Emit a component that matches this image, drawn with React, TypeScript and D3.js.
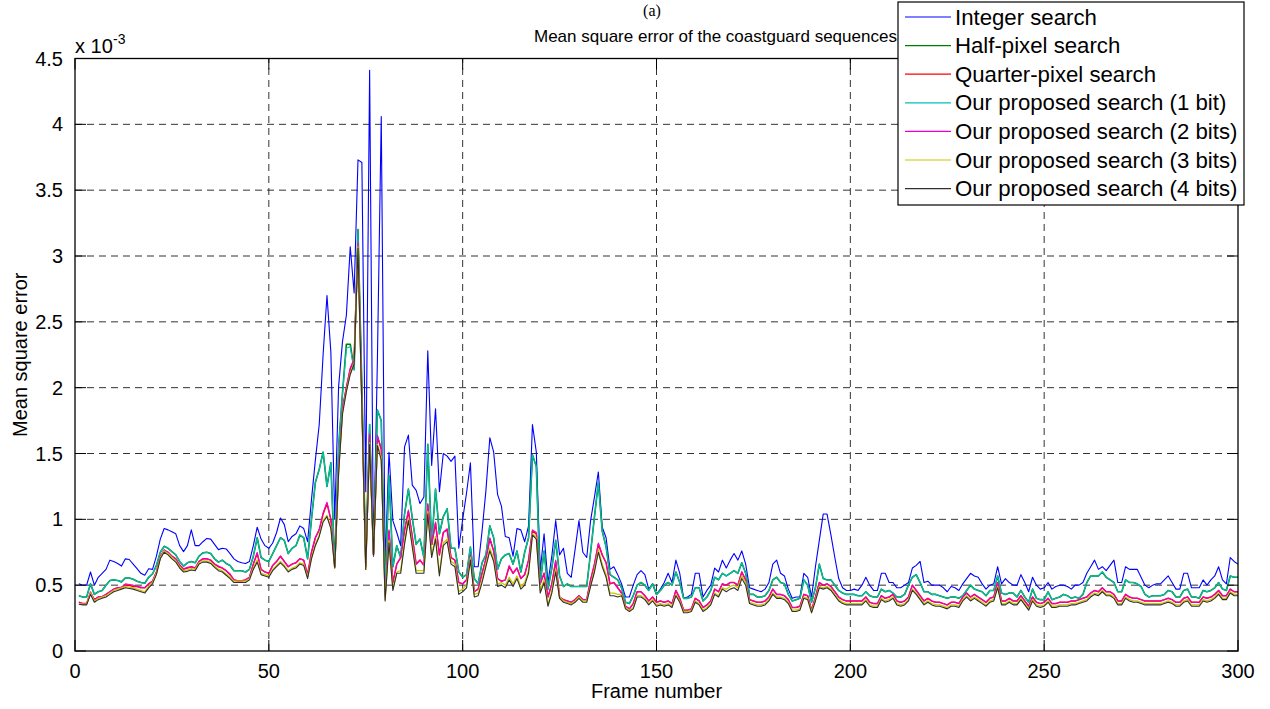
import React from "react";
import * as d3 from "d3";

// Frame numbers 1..300
const frames: number[] = d3.range(1, 301);

const xTicks = [0, 50, 100, 150, 200, 250, 300];
const yTicks = [0, 0.5, 1, 1.5, 2, 2.5, 3, 3.5, 4, 4.5];
const yTickLabels = ["0", "0.5", "1", "1.5", "2", "2.5", "3", "3.5", "4", "4.5"];

const seriesNames = [
  "Integer search",
  "Half-pixel search",
  "Quarter-pixel search",
  "Our proposed search (1 bit)",
  "Our proposed search (2 bits)",
  "Our proposed search (3 bits)",
  "Our proposed search (4 bits)",
];
const seriesColors = ["#0000ff", "#008000", "#ff0000", "#00bfbf", "#ee00cc", "#c8c800", "#303030"];
const seriesWidths = [1.1, 1.6, 1.5, 1.1, 1.1, 1.3, 1.1];

// values in units of 1e-3
const integerSearch = [
  0.51,0.50,0.50,0.60,0.50,0.56,0.59,0.62,0.69,0.68,
  0.665,0.645,0.70,0.695,0.66,0.625,0.59,0.575,0.625,0.62,
  0.72,0.85,0.93,0.92,0.905,0.89,0.80,0.755,0.80,0.92,
  0.80,0.80,0.83,0.855,0.85,0.81,0.77,0.78,0.775,0.74,
  0.70,0.68,0.67,0.665,0.68,0.80,0.94,0.85,0.80,0.78,
  0.82,0.90,1.01,0.96,0.83,0.87,0.89,0.95,0.93,0.83,
  1.15,1.45,1.72,2.25,2.70,2.27,1.00,2.01,2.35,2.55,
  3.07,2.72,3.73,3.71,1.21,4.41,0.72,2.20,4.06,0.64,
  1.51,0.99,0.90,0.80,1.55,1.64,1.26,1.22,1.12,1.17,
  2.28,1.41,1.84,1.21,1.50,1.48,1.44,1.48,0.78,1.00,
  1.20,1.43,0.64,0.64,0.91,1.22,1.62,1.51,1.19,1.10,
  0.87,0.86,0.72,0.93,0.92,0.83,0.95,1.72,1.51,0.61,
  0.89,0.52,0.72,0.99,0.73,0.78,0.59,0.56,0.77,0.99,
  0.75,0.71,0.99,1.17,1.36,0.94,0.86,0.62,0.64,0.58,
  0.51,0.41,0.41,0.50,0.58,0.61,0.58,0.47,0.51,0.43,
  0.47,0.52,0.59,0.52,0.69,0.59,0.40,0.41,0.43,0.59,
  0.59,0.41,0.46,0.50,0.63,0.60,0.69,0.63,0.69,0.74,
  0.69,0.76,0.66,0.48,0.47,0.46,0.45,0.47,0.52,0.66,
  0.69,0.59,0.57,0.47,0.40,0.41,0.41,0.59,0.56,0.41,
  0.64,0.84,1.04,1.04,0.88,0.71,0.55,0.48,0.46,0.46,
  0.47,0.46,0.50,0.56,0.50,0.46,0.46,0.59,0.59,0.52,
  0.52,0.48,0.48,0.50,0.52,0.63,0.65,0.68,0.52,0.53,
  0.50,0.50,0.50,0.48,0.45,0.49,0.48,0.46,0.51,0.55,
  0.59,0.57,0.56,0.51,0.47,0.50,0.51,0.64,0.51,0.55,
  0.52,0.50,0.50,0.58,0.52,0.45,0.56,0.50,0.47,0.48,
  0.52,0.47,0.49,0.50,0.50,0.49,0.47,0.50,0.50,0.52,
  0.59,0.64,0.69,0.62,0.64,0.61,0.65,0.69,0.52,0.52,
  0.64,0.62,0.62,0.62,0.56,0.50,0.48,0.50,0.51,0.51,
  0.54,0.57,0.52,0.47,0.47,0.59,0.59,0.48,0.48,0.48,
  0.54,0.50,0.54,0.57,0.64,0.54,0.51,0.71,0.68,0.66,
];

const halfPixel = [
  0.42,0.41,0.41,0.51,0.43,0.45,0.46,0.50,0.535,0.54,
  0.535,0.525,0.555,0.555,0.545,0.53,0.52,0.515,0.56,0.585,
  0.65,0.75,0.795,0.78,0.755,0.73,0.68,0.645,0.67,0.68,
  0.67,0.72,0.745,0.75,0.74,0.70,0.675,0.69,0.665,0.65,
  0.61,0.61,0.61,0.60,0.62,0.72,0.86,0.71,0.69,0.68,
  0.74,0.80,0.86,0.84,0.74,0.78,0.80,0.88,0.86,0.70,
  1.00,1.28,1.38,1.51,1.25,1.43,0.64,1.55,1.96,2.33,
  2.33,2.14,3.20,2.01,0.70,1.72,0.74,1.83,1.75,0.50,
  1.33,0.64,0.80,0.71,1.04,1.23,1.01,0.81,0.85,0.71,
  1.57,0.81,1.23,0.89,1.02,1.08,0.78,0.78,0.60,0.56,
  0.58,0.79,0.55,0.51,0.67,0.73,0.95,0.86,0.62,0.70,
  0.73,0.74,0.66,0.76,0.60,0.75,0.86,1.49,1.40,0.51,
  0.76,0.47,0.63,0.84,0.57,0.49,0.51,0.49,0.49,0.49,
  0.49,0.49,0.75,1.02,1.28,0.91,0.79,0.58,0.56,0.54,
  0.48,0.37,0.36,0.42,0.50,0.52,0.50,0.46,0.51,0.43,
  0.46,0.50,0.52,0.50,0.60,0.52,0.40,0.40,0.41,0.48,
  0.48,0.38,0.41,0.46,0.56,0.54,0.59,0.57,0.59,0.61,
  0.59,0.67,0.59,0.43,0.43,0.41,0.41,0.42,0.46,0.54,
  0.56,0.52,0.51,0.43,0.38,0.39,0.40,0.54,0.50,0.37,
  0.48,0.66,0.55,0.54,0.54,0.50,0.46,0.44,0.43,0.43,
  0.43,0.42,0.42,0.45,0.42,0.41,0.41,0.47,0.45,0.46,
  0.44,0.41,0.41,0.43,0.50,0.56,0.58,0.52,0.45,0.45,
  0.43,0.43,0.42,0.41,0.40,0.41,0.41,0.40,0.42,0.46,
  0.50,0.47,0.46,0.45,0.42,0.46,0.46,0.57,0.44,0.43,
  0.44,0.44,0.41,0.46,0.41,0.37,0.47,0.40,0.39,0.39,
  0.45,0.39,0.40,0.41,0.43,0.42,0.40,0.41,0.40,0.43,
  0.52,0.57,0.57,0.57,0.60,0.56,0.54,0.52,0.45,0.45,
  0.54,0.52,0.52,0.51,0.49,0.43,0.41,0.42,0.42,0.42,
  0.43,0.46,0.45,0.41,0.41,0.46,0.47,0.41,0.41,0.40,
  0.46,0.45,0.46,0.48,0.52,0.47,0.46,0.57,0.56,0.56,
];

const quarterPixel = [
  0.37,0.36,0.36,0.44,0.39,0.41,0.41,0.43,0.45,0.47,
  0.48,0.48,0.50,0.50,0.49,0.49,0.48,0.48,0.51,0.53,
  0.60,0.71,0.76,0.75,0.72,0.70,0.65,0.62,0.63,0.64,
  0.63,0.68,0.70,0.70,0.69,0.66,0.64,0.63,0.61,0.58,
  0.54,0.53,0.53,0.54,0.56,0.66,0.74,0.62,0.60,0.59,
  0.65,0.68,0.72,0.68,0.64,0.66,0.67,0.70,0.69,0.58,
  0.75,0.86,0.92,1.04,1.12,1.00,0.64,1.40,1.84,2.00,
  2.14,2.21,3.12,1.90,0.64,1.64,0.73,1.63,1.53,0.42,
  0.91,0.52,0.66,0.71,0.91,1.06,0.87,0.66,0.69,0.65,
  1.11,0.81,0.97,0.73,0.90,0.92,0.71,0.69,0.52,0.51,
  0.54,0.73,0.45,0.47,0.59,0.70,0.85,0.76,0.55,0.53,
  0.54,0.64,0.59,0.63,0.55,0.58,0.69,0.91,0.89,0.51,
  0.59,0.41,0.51,0.68,0.41,0.39,0.38,0.37,0.39,0.42,
  0.39,0.39,0.54,0.66,0.81,0.73,0.67,0.51,0.52,0.48,
  0.44,0.34,0.32,0.36,0.45,0.45,0.42,0.38,0.41,0.37,
  0.38,0.37,0.38,0.36,0.46,0.40,0.31,0.31,0.32,0.40,
  0.38,0.33,0.35,0.38,0.47,0.45,0.51,0.50,0.52,0.52,
  0.50,0.60,0.54,0.39,0.38,0.37,0.37,0.38,0.41,0.47,
  0.43,0.43,0.42,0.39,0.33,0.33,0.34,0.43,0.42,0.31,
  0.41,0.52,0.50,0.51,0.49,0.45,0.41,0.39,0.38,0.38,
  0.38,0.38,0.38,0.41,0.37,0.36,0.36,0.42,0.40,0.41,
  0.43,0.38,0.37,0.38,0.41,0.50,0.46,0.42,0.38,0.40,
  0.38,0.37,0.37,0.36,0.35,0.37,0.37,0.36,0.41,0.44,
  0.41,0.43,0.41,0.39,0.37,0.40,0.41,0.52,0.38,0.38,
  0.40,0.38,0.38,0.42,0.38,0.34,0.41,0.37,0.36,0.37,
  0.40,0.36,0.36,0.37,0.37,0.37,0.38,0.38,0.39,0.40,
  0.41,0.44,0.46,0.45,0.48,0.45,0.45,0.43,0.38,0.38,
  0.43,0.41,0.40,0.40,0.39,0.38,0.38,0.38,0.38,0.38,
  0.39,0.40,0.39,0.37,0.37,0.40,0.41,0.37,0.37,0.37,
  0.41,0.40,0.41,0.43,0.46,0.42,0.42,0.47,0.45,0.45,
];

const proposed1 = [
  0.42,0.41,0.41,0.51,0.43,0.45,0.46,0.50,0.535,0.54,
  0.535,0.525,0.555,0.555,0.545,0.53,0.52,0.515,0.56,0.585,
  0.65,0.75,0.795,0.78,0.755,0.73,0.68,0.645,0.67,0.68,
  0.67,0.72,0.745,0.75,0.74,0.70,0.675,0.69,0.665,0.65,
  0.61,0.61,0.61,0.60,0.62,0.72,0.86,0.71,0.69,0.68,
  0.74,0.80,0.86,0.84,0.74,0.78,0.80,0.88,0.86,0.70,
  1.00,1.28,1.38,1.51,1.25,1.43,0.64,1.55,1.95,2.30,
  2.31,2.13,3.19,2.00,0.70,1.72,0.74,1.83,1.75,0.50,
  1.33,0.64,0.80,0.71,1.04,1.23,1.01,0.81,0.85,0.71,
  1.57,0.81,1.23,0.89,1.02,1.08,0.78,0.78,0.60,0.56,
  0.58,0.79,0.55,0.51,0.67,0.73,0.95,0.86,0.62,0.70,
  0.73,0.74,0.66,0.76,0.60,0.75,0.86,1.49,1.40,0.51,
  0.76,0.47,0.63,0.84,0.57,0.49,0.51,0.49,0.49,0.49,
  0.49,0.49,0.75,1.02,1.28,0.91,0.79,0.58,0.56,0.54,
  0.48,0.37,0.36,0.42,0.50,0.52,0.50,0.46,0.51,0.43,
  0.46,0.50,0.52,0.50,0.60,0.52,0.40,0.40,0.41,0.48,
  0.48,0.38,0.41,0.46,0.56,0.54,0.59,0.57,0.59,0.61,
  0.59,0.67,0.59,0.43,0.43,0.41,0.41,0.42,0.46,0.54,
  0.56,0.52,0.51,0.43,0.38,0.39,0.40,0.54,0.50,0.37,
  0.48,0.66,0.55,0.54,0.54,0.50,0.46,0.44,0.43,0.43,
  0.43,0.42,0.42,0.45,0.42,0.41,0.41,0.47,0.45,0.46,
  0.44,0.41,0.41,0.43,0.50,0.56,0.58,0.52,0.45,0.45,
  0.43,0.43,0.42,0.41,0.40,0.41,0.41,0.40,0.42,0.46,
  0.50,0.47,0.46,0.45,0.42,0.46,0.46,0.57,0.44,0.43,
  0.44,0.44,0.41,0.46,0.41,0.37,0.47,0.40,0.39,0.39,
  0.45,0.39,0.40,0.41,0.43,0.42,0.40,0.41,0.40,0.43,
  0.52,0.57,0.57,0.57,0.60,0.56,0.54,0.52,0.45,0.45,
  0.54,0.52,0.52,0.51,0.49,0.43,0.41,0.42,0.42,0.42,
  0.43,0.46,0.45,0.41,0.41,0.46,0.47,0.41,0.41,0.40,
  0.46,0.45,0.46,0.48,0.52,0.47,0.46,0.57,0.56,0.56,
];

const proposed2 = [
  0.37,0.36,0.36,0.45,0.39,0.41,0.415,0.43,0.45,0.47,
  0.48,0.485,0.51,0.505,0.50,0.49,0.485,0.48,0.51,0.53,
  0.60,0.72,0.77,0.75,0.72,0.70,0.655,0.625,0.635,0.64,
  0.63,0.68,0.70,0.70,0.69,0.66,0.645,0.63,0.61,0.585,
  0.54,0.535,0.535,0.54,0.56,0.66,0.75,0.62,0.60,0.59,
  0.65,0.68,0.72,0.68,0.64,0.66,0.67,0.70,0.69,0.58,
  0.75,0.86,0.92,1.05,1.13,1.00,0.64,1.40,1.85,2.00,
  2.15,2.22,3.10,1.90,0.64,1.65,0.73,1.64,1.54,0.42,
  0.92,0.52,0.66,0.71,0.92,1.07,0.87,0.66,0.69,0.65,
  1.12,0.81,0.98,0.73,0.90,0.93,0.71,0.69,0.52,0.51,
  0.54,0.73,0.45,0.47,0.59,0.70,0.86,0.76,0.55,0.53,
  0.54,0.65,0.59,0.63,0.55,0.58,0.69,0.92,0.90,0.51,
  0.59,0.41,0.51,0.69,0.41,0.39,0.38,0.37,0.39,0.42,
  0.39,0.39,0.54,0.66,0.82,0.73,0.67,0.51,0.52,0.48,
  0.44,0.34,0.32,0.36,0.45,0.45,0.42,0.38,0.41,0.37,
  0.38,0.37,0.38,0.36,0.46,0.40,0.31,0.31,0.32,0.40,
  0.38,0.33,0.35,0.38,0.47,0.45,0.51,0.50,0.52,0.52,
  0.50,0.60,0.54,0.39,0.38,0.37,0.37,0.38,0.41,0.47,
  0.43,0.43,0.42,0.39,0.33,0.33,0.34,0.43,0.42,0.31,
  0.41,0.52,0.50,0.51,0.49,0.45,0.41,0.39,0.38,0.38,
  0.38,0.38,0.38,0.41,0.37,0.36,0.36,0.42,0.40,0.41,
  0.43,0.38,0.37,0.38,0.41,0.50,0.46,0.42,0.38,0.40,
  0.38,0.37,0.37,0.36,0.35,0.37,0.37,0.36,0.41,0.44,
  0.41,0.43,0.41,0.39,0.37,0.40,0.41,0.52,0.38,0.38,
  0.40,0.38,0.38,0.42,0.38,0.34,0.41,0.37,0.36,0.37,
  0.40,0.36,0.36,0.37,0.37,0.37,0.38,0.38,0.39,0.40,
  0.41,0.44,0.46,0.45,0.48,0.45,0.45,0.43,0.38,0.38,
  0.43,0.41,0.40,0.40,0.39,0.38,0.38,0.38,0.38,0.38,
  0.39,0.40,0.39,0.37,0.37,0.40,0.41,0.37,0.37,0.37,
  0.41,0.40,0.41,0.43,0.46,0.42,0.42,0.47,0.45,0.45,
];

const proposed3 = [
  0.36,0.355,0.355,0.44,0.38,0.40,0.41,0.42,0.44,0.46,
  0.47,0.48,0.49,0.485,0.48,0.47,0.46,0.45,0.49,0.52,
  0.59,0.71,0.76,0.74,0.71,0.685,0.64,0.61,0.615,0.625,
  0.62,0.67,0.685,0.685,0.675,0.645,0.62,0.61,0.585,0.56,
  0.53,0.53,0.53,0.53,0.55,0.63,0.69,0.59,0.58,0.57,
  0.62,0.65,0.68,0.65,0.61,0.63,0.64,0.67,0.66,0.56,
  0.71,0.81,0.88,0.99,1.03,0.94,0.63,1.36,1.81,1.98,
  2.11,2.19,3.07,1.86,0.62,1.58,0.73,1.57,1.47,0.39,
  0.84,0.47,0.60,0.61,0.83,1.01,0.81,0.61,0.61,0.61,
  1.06,0.73,0.87,0.59,0.82,0.85,0.68,0.66,0.45,0.47,
  0.50,0.71,0.43,0.44,0.54,0.66,0.78,0.70,0.51,0.52,
  0.50,0.56,0.51,0.57,0.49,0.52,0.61,0.89,0.86,0.46,
  0.54,0.35,0.46,0.62,0.41,0.38,0.37,0.36,0.38,0.41,
  0.38,0.38,0.50,0.62,0.77,0.66,0.58,0.44,0.44,0.43,
  0.43,0.33,0.31,0.33,0.42,0.42,0.40,0.36,0.39,0.35,
  0.36,0.35,0.36,0.34,0.43,0.38,0.30,0.30,0.31,0.38,
  0.36,0.31,0.33,0.36,0.44,0.42,0.48,0.47,0.49,0.50,
  0.48,0.57,0.52,0.37,0.36,0.35,0.35,0.36,0.39,0.44,
  0.41,0.41,0.40,0.37,0.31,0.31,0.32,0.41,0.40,0.30,
  0.39,0.49,0.48,0.49,0.47,0.43,0.39,0.37,0.36,0.36,
  0.36,0.36,0.36,0.39,0.35,0.34,0.34,0.40,0.38,0.39,
  0.41,0.36,0.35,0.36,0.39,0.47,0.44,0.40,0.36,0.38,
  0.36,0.35,0.35,0.34,0.33,0.35,0.35,0.34,0.39,0.42,
  0.39,0.41,0.39,0.37,0.35,0.38,0.39,0.49,0.36,0.36,
  0.38,0.36,0.36,0.40,0.36,0.32,0.39,0.35,0.34,0.35,
  0.38,0.34,0.34,0.35,0.35,0.35,0.36,0.36,0.37,0.38,
  0.39,0.42,0.44,0.43,0.46,0.43,0.43,0.41,0.36,0.36,
  0.41,0.39,0.38,0.38,0.37,0.36,0.36,0.36,0.36,0.36,
  0.37,0.38,0.37,0.35,0.35,0.38,0.39,0.35,0.35,0.35,
  0.39,0.38,0.39,0.41,0.44,0.40,0.40,0.45,0.43,0.43,
];

const proposed4 = [
  0.355,0.35,0.35,0.43,0.37,0.39,0.40,0.41,0.43,0.45,
  0.46,0.47,0.48,0.475,0.47,0.46,0.45,0.44,0.48,0.51,
  0.58,0.70,0.75,0.73,0.70,0.675,0.63,0.60,0.605,0.615,
  0.61,0.66,0.675,0.675,0.665,0.635,0.61,0.60,0.575,0.55,
  0.52,0.52,0.52,0.52,0.54,0.62,0.675,0.58,0.57,0.56,
  0.61,0.64,0.67,0.64,0.60,0.62,0.63,0.66,0.65,0.55,
  0.70,0.80,0.87,0.98,1.02,0.93,0.63,1.35,1.80,1.97,
  2.10,2.18,3.06,1.85,0.62,1.57,0.73,1.56,1.45,0.38,
  0.82,0.46,0.59,0.59,0.81,0.99,0.79,0.59,0.59,0.59,
  1.04,0.71,0.85,0.57,0.80,0.83,0.66,0.64,0.43,0.45,
  0.48,0.69,0.41,0.42,0.52,0.64,0.76,0.68,0.49,0.50,
  0.48,0.54,0.49,0.55,0.47,0.50,0.59,0.88,0.85,0.44,
  0.52,0.34,0.44,0.60,0.40,0.37,0.36,0.35,0.37,0.40,
  0.37,0.37,0.49,0.60,0.75,0.64,0.56,0.42,0.42,0.41,
  0.42,0.32,0.30,0.32,0.41,0.41,0.39,0.35,0.38,0.34,
  0.35,0.34,0.35,0.33,0.42,0.37,0.29,0.29,0.30,0.37,
  0.35,0.30,0.32,0.35,0.43,0.41,0.47,0.45,0.47,0.48,
  0.46,0.55,0.50,0.36,0.35,0.34,0.34,0.35,0.38,0.43,
  0.40,0.40,0.39,0.36,0.30,0.30,0.31,0.40,0.39,0.29,
  0.38,0.48,0.47,0.48,0.46,0.42,0.38,0.36,0.35,0.35,
  0.35,0.35,0.35,0.38,0.34,0.33,0.33,0.39,0.37,0.38,
  0.40,0.35,0.34,0.35,0.38,0.46,0.43,0.39,0.35,0.37,
  0.35,0.34,0.34,0.33,0.32,0.34,0.34,0.33,0.38,0.41,
  0.38,0.40,0.38,0.36,0.34,0.37,0.38,0.48,0.35,0.35,
  0.37,0.35,0.35,0.39,0.35,0.31,0.38,0.34,0.33,0.34,
  0.37,0.33,0.33,0.34,0.34,0.34,0.35,0.35,0.36,0.37,
  0.38,0.41,0.43,0.42,0.45,0.42,0.42,0.40,0.35,0.35,
  0.40,0.38,0.37,0.37,0.36,0.35,0.35,0.35,0.35,0.35,
  0.36,0.37,0.36,0.34,0.34,0.37,0.38,0.34,0.34,0.34,
  0.38,0.37,0.38,0.40,0.43,0.39,0.39,0.44,0.42,0.42,
];

const allSeries = [integerSearch, halfPixel, quarterPixel, proposed1, proposed2, proposed3, proposed4];

const W = 1270;
const H = 709;
const left = 75;
const right = 1238;
const top = 58.5;
const bottom = 651;

const font = "Arial, 'Liberation Sans', Helvetica, sans-serif";

export default function App() {
  const x = d3.scaleLinear().domain([0, 300]).range([left, right]);
  const y = d3.scaleLinear().domain([0, 4.5]).range([bottom, top]);
  const line = d3
    .line<number>()
    .x((_, i) => x(frames[i]))
    .y((d) => y(d));

  const legendX = 898;
  const legendY = 2;
  const legendW = 346;
  const legendH = 203;
  const rowH = 28.6;
  const tickLen = 11;

  return (
    <svg
      width={W}
      height={H}
      style={{ position: "absolute", left: 0, top: 0, background: "#fff" }}
      xmlns="http://www.w3.org/2000/svg"
    >
      <rect x={0} y={0} width={W} height={H} fill="#fff" />
      {/* grid */}
      <g stroke="#000" strokeWidth={1} strokeDasharray="7,5" opacity={0.8}>
        {xTicks.slice(1, -1).map((t) => (
          <line key={"gx" + t} x1={x(t)} x2={x(t)} y1={bottom} y2={top} />
        ))}
        {yTicks.slice(1, -1).map((t) => (
          <line key={"gy" + t} x1={left} x2={right} y1={y(t)} y2={y(t)} />
        ))}
      </g>
      {/* series */}
      <g fill="none" strokeLinejoin="round">
        {allSeries.map((s, k) => (
          <path key={k} d={line(s) || ""} stroke={seriesColors[k]} strokeWidth={seriesWidths[k]} />
        ))}
      </g>
      {/* ticks */}
      <g stroke="#000" strokeWidth={1}>
        {xTicks.map((t) => (
          <g key={"tx" + t}>
            <line x1={x(t)} x2={x(t)} y1={bottom} y2={bottom - tickLen} />
            <line x1={x(t)} x2={x(t)} y1={top} y2={top + tickLen} />
          </g>
        ))}
        {yTicks.map((t) => (
          <g key={"ty" + t}>
            <line x1={left} x2={left + tickLen} y1={y(t)} y2={y(t)} />
            <line x1={right} x2={right - tickLen} y1={y(t)} y2={y(t)} />
          </g>
        ))}
      </g>
      {/* axes box */}
      <rect x={left} y={top} width={right - left} height={bottom - top} fill="none" stroke="#000" strokeWidth={1.3} />
      {/* tick labels */}
      <g fontFamily={font} fontSize={20} fill="#000">
        {xTicks.map((t) => (
          <text key={"lx" + t} x={x(t)} y={678} textAnchor="middle">
            {String(t)}
          </text>
        ))}
        {yTicks.map((t, i) => (
          <text key={"ly" + t} x={63} y={y(t) + 7} textAnchor="end">
            {yTickLabels[i]}
          </text>
        ))}
        <text x={(left + right) / 2} y={698} textAnchor="middle">
          Frame number
        </text>
        <text transform={`translate(27, ${(top + bottom) / 2}) rotate(-90)`} textAnchor="middle">
          Mean square error
        </text>
        <text x={75} y={53}>x 10</text>
        <text x={113} y={44} fontSize={14}>-3</text>
      </g>
      {/* titles */}
      <text x={652} y={16} textAnchor="middle" fontFamily="'Liberation Serif', 'Times New Roman', serif" fontSize={16}>
        (a)
      </text>
      <text x={534} y={42} fontFamily={font} fontSize={17}>
        Mean square error of the coastguard sequences
      </text>
      {/* legend */}
      <g>
        <rect x={legendX} y={legendY} width={legendW} height={legendH} fill="#fff" stroke="#000" strokeWidth={1.2} />
        {seriesNames.map((n, i) => {
          const cy = legendY + 15 + i * rowH;
          return (
            <g key={n}>
              <line x1={legendX + 7} x2={legendX + 53} y1={cy} y2={cy} stroke={seriesColors[i]} strokeWidth={1.2} />
              <text x={legendX + 57} y={cy + 7.5} fontFamily={font} fontSize={22.2}>
                {n}
              </text>
            </g>
          );
        })}
      </g>
    </svg>
  );
}
